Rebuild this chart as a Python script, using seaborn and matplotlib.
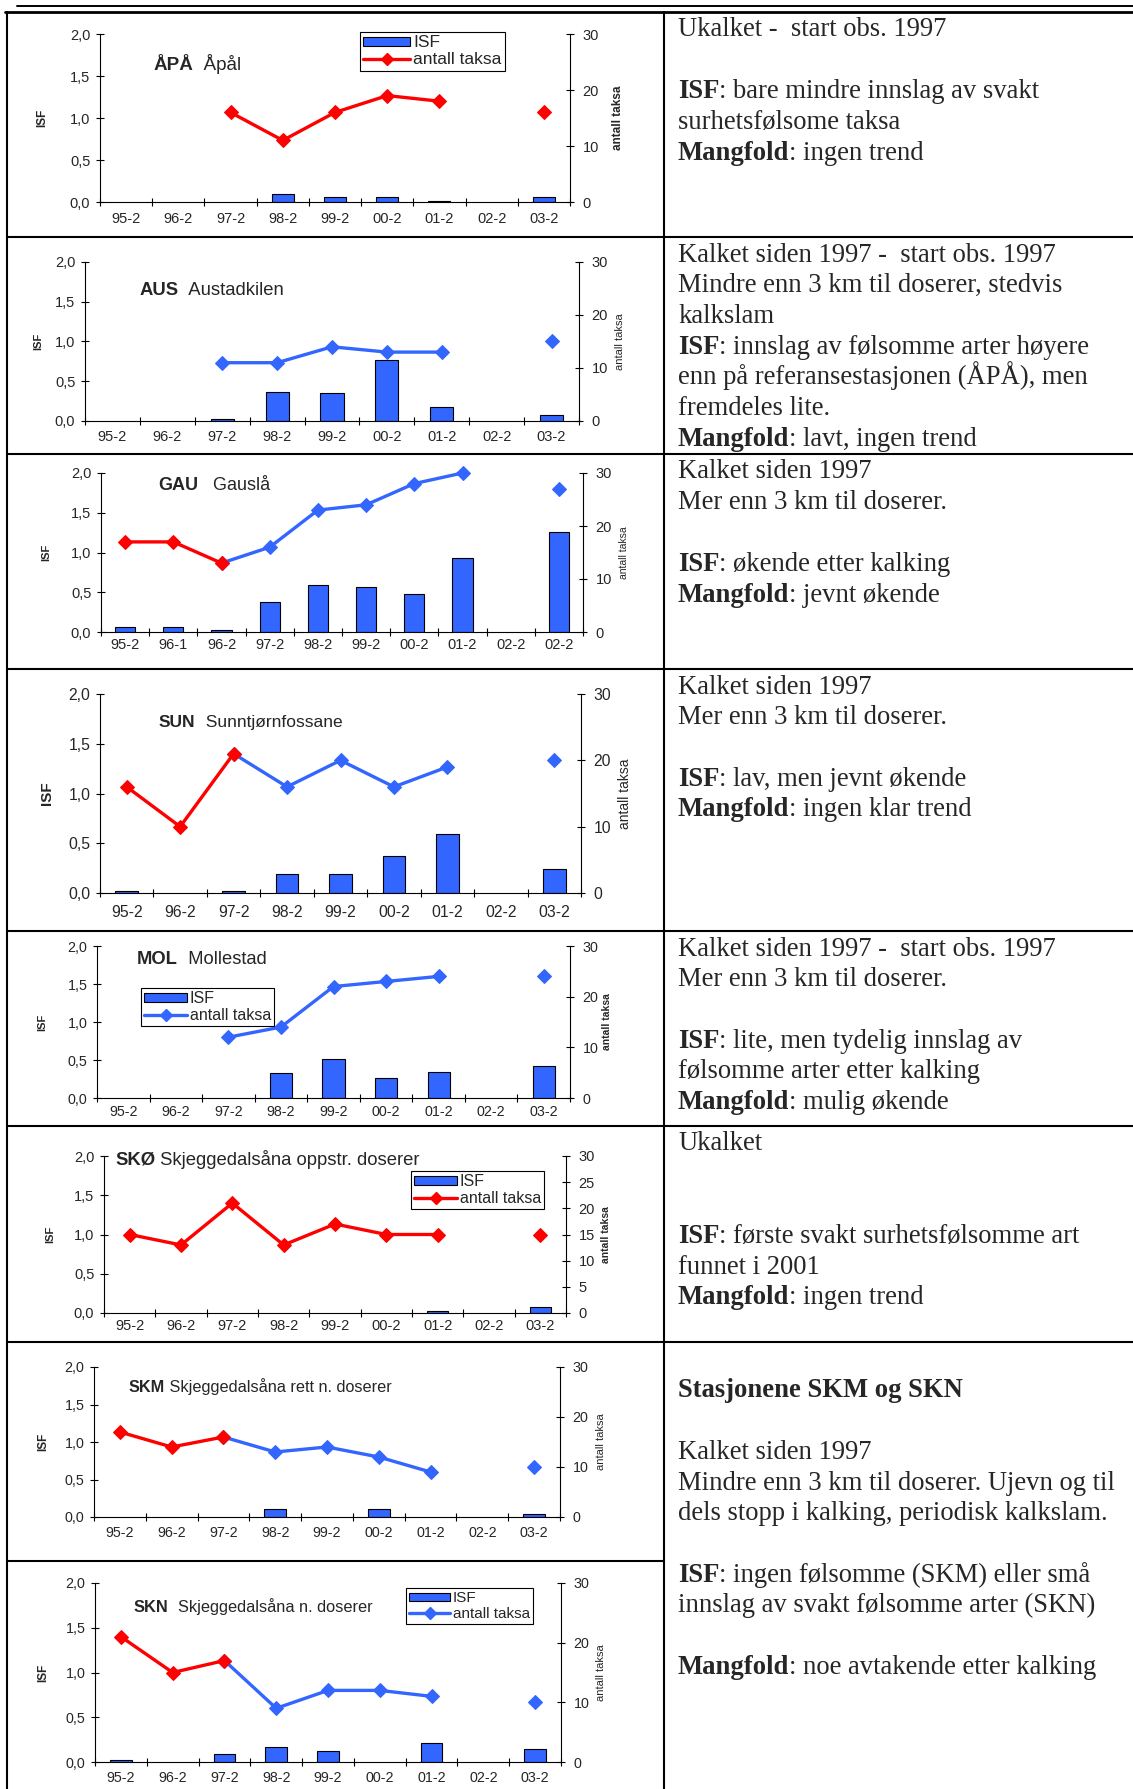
import numpy as np
import pandas as pd
import matplotlib
matplotlib.use("Agg")
import matplotlib.pyplot as plt
from matplotlib.lines import Line2D
from matplotlib.patches import Patch
import seaborn as sns

W, H = 1133, 1789
BLUE = "#3366FF"
RED = "#FF0000"
nan = np.nan
SANS = ["Liberation Sans", "DejaVu Sans"]
SERIF = ["Liberation Serif", "DejaVu Serif"]

# x categories
years = ["95-2", "96-2", "97-2", "98-2", "99-2", "00-2", "01-2", "02-2", "03-2"]
years_gau = ["95-2", "96-1", "96-2", "97-2", "98-2", "99-2", "00-2", "01-2", "02-2", "02-2"]

# ISF (left axis) and antall taksa (right axis) per station
apa_isf = [nan, nan, nan, 0.095, 0.063, 0.055, 0.012, nan, 0.063]
apa_taxa = [nan, nan, 16, 11, 16, 19, 18, nan, 16]
aus_isf = [nan, nan, 0.025, 0.364, 0.351, 0.77, 0.17, nan, 0.07]
aus_taxa = [nan, nan, 11, 11, 14, 13, 13, nan, 15]
gau_isf = [0.063, 0.063, 0.025, 0.372, 0.59, 0.56, 0.48, 0.937, nan, 1.26]
gau_taxa = [17, 17, 13, 16, 23, 24, 28, 30, nan, 27]
sun_isf = [0.017, nan, 0.017, 0.19, 0.19, 0.376, 0.597, nan, 0.238]
sun_taxa = [16, 10, 21, 16, 20, 16, 19, nan, 20]
mol_isf = [nan, nan, nan, 0.324, 0.512, 0.263, 0.337, nan, 0.424]
mol_taxa = [nan, nan, 12, 14, 22, 23, 24, nan, 24]
sko_isf = [nan, nan, nan, nan, nan, nan, 0.03, nan, 0.072]
sko_taxa = [15, 13, 21, 13, 17, 15, 15, nan, 15]
skm_isf = [nan, nan, nan, 0.103, nan, 0.103, nan, nan, 0.036]
skm_taxa = [17, 14, 16, 13, 14, 12, 9, nan, 10]
skn_isf = [0.026, nan, 0.089, 0.168, 0.123, nan, 0.216, nan, 0.149]
skn_taxa = [21, 15, 17, 9, 12, 12, 11, nan, 10]

# last un-limed sample (red); None = all red, -1 = all blue
apa_red, aus_red, gau_red, sun_red = None, -1, 2, 2
mol_red, sko_red, skm_red, skn_red = -1, None, 2, 2

titles = [
    [("ÅPÅ", True), ("  Åpål", False)],
    [("AUS", True), ("  Austadkilen", False)],
    [("GAU", True), ("   Gauslå", False)],
    [("SUN", True), ("  Sunntjørnfossane", False)],
    [("MOL", True), ("  Mollestad", False)],
    [("SKØ", True), (" Skjeggedalsåna oppstr. doserer", False)],
    [("SKM", True), (" Skjeggedalsåna rett n. doserer", False)],
    [("SKN", True), ("  Skjeggedalsåna n. doserer", False)],
]

left_ticks = [0, 0.5, 1.0, 1.5, 2.0]
left_labels = ["0,0", "0,5", "1,0", "1,5", "2,0"]
right_ticks = [0, 10, 20, 30]
right_ticks_sko = [0, 5, 10, 15, 20, 25, 30]

notes = [
    ["Ukalket -  start obs. 1997", "",
     [("ISF", True), (": bare mindre innslag av svakt", False)],
     "surhetsfølsome taksa",
     [("Mangfold", True), (": ingen trend", False)]],
    ["Kalket siden 1997 -  start obs. 1997",
     "Mindre enn 3 km til doserer, stedvis", "kalkslam",
     [("ISF", True), (": innslag av følsomme arter høyere", False)],
     "enn på referansestasjonen (ÅPÅ), men", "fremdeles lite.",
     [("Mangfold", True), (": lavt, ingen trend", False)]],
    ["Kalket siden 1997", "Mer enn 3 km til doserer.", "",
     [("ISF", True), (": økende etter kalking", False)],
     [("Mangfold", True), (": jevnt økende", False)]],
    ["Kalket siden 1997", "Mer enn 3 km til doserer.", "",
     [("ISF", True), (": lav, men jevnt økende", False)],
     [("Mangfold", True), (": ingen klar trend", False)]],
    ["Kalket siden 1997 -  start obs. 1997", "Mer enn 3 km til doserer.", "",
     [("ISF", True), (": lite, men tydelig innslag av", False)],
     "følsomme arter etter kalking",
     [("Mangfold", True), (": mulig økende", False)]],
    ["Ukalket", "", "",
     [("ISF", True), (": første svakt surhetsfølsomme art", False)],
     "funnet i 2001",
     [("Mangfold", True), (": ingen trend", False)]],
    ["", [("Stasjonene SKM og SKN", True)], "",
     "Kalket siden 1997", "Mindre enn 3 km til doserer. Ujevn og til",
     "dels stopp i kalking, periodisk kalkslam.", "",
     [("ISF", True), (": ingen følsomme (SKM) eller små", False)],
     "innslag av svakt følsomme arter (SKN)", "",
     [("Mangfold", True), (": noe avtakende etter kalking", False)]],
]
note_tops = [12, 237, 454, 669, 931, 1126, 1342]

# layout in pixels: axes box (left, top, right, bottom), title x/y/size, tick size,
# x-label offset, ISF label (x, size, bold), taksa label (x, size, bold), legend
stations = [
    dict(labels=years, isf=apa_isf, taxa=apa_taxa, red=apa_red, box=(100, 34, 570, 202),
         title=(153, 63, 13.6), fs=10.5, xoff=18, isf_lab=(42, 8.5, True), tax_lab=(618, 8.5, True),
         legend=(360, 32, RED, 12.5), rt=right_ticks),
    dict(labels=years, isf=aus_isf, taxa=aus_taxa, red=aus_red, box=(85, 262, 579, 421),
         title=(140, 288, 13.3), fs=10.5, xoff=17, isf_lab=(38, 8, True), tax_lab=(620, 8, False),
         legend=None, rt=right_ticks),
    dict(labels=years_gau, isf=gau_isf, taxa=gau_taxa, red=gau_red, box=(101, 473, 583, 632),
         title=(158, 484, 13), fs=10.5, xoff=14, isf_lab=(46, 8, True), tax_lab=(624, 7.5, False),
         legend=None, rt=right_ticks),
    dict(labels=years, isf=sun_isf, taxa=sun_taxa, red=sun_red, box=(100, 694, 581, 893),
         title=(159, 721, 12.5), fs=11.3, xoff=21, isf_lab=(47, 11, True), tax_lab=(625, 10, False),
         legend=None, rt=right_ticks),
    dict(labels=years, isf=mol_isf, taxa=mol_taxa, red=mol_red, box=(97, 946, 570, 1098),
         title=(137, 957, 13.2), fs=10.3, xoff=15, isf_lab=(42, 8, True), tax_lab=(607, 7.5, True),
         legend=(141, 988, BLUE, 11.5), rt=right_ticks),
    dict(labels=years, isf=sko_isf, taxa=sko_taxa, red=sko_red, box=(104, 1156, 566, 1313),
         title=(115, 1158, 13.3), fs=10.5, xoff=14, isf_lab=(50, 8, True), tax_lab=(606, 7.5, True),
         legend=(411, 1171, RED, 11.5), rt=right_ticks_sko),
    dict(labels=years, isf=skm_isf, taxa=skm_taxa, red=skm_red, box=(94, 1367, 560, 1517),
         title=(129, 1386, 11.7), fs=10.3, xoff=17, isf_lab=(43, 8.5, True), tax_lab=(601, 8, False),
         legend=None, rt=right_ticks),
    dict(labels=years, isf=skn_isf, taxa=skn_taxa, red=skn_red, box=(95, 1583, 561, 1762),
         title=(134, 1606, 11.8), fs=10.3, xoff=17, isf_lab=(43, 8.5, True), tax_lab=(601, 8, False),
         legend=(406, 1588, BLUE, 11), rt=right_ticks),
]

sns.set_style("white")
plt.rcParams["font.family"] = SANS
PX = 100 / 72.0


def rich_text(ax, x, y, parts, size, family):
    t = None
    for s, bold in parts:
        kw = dict(fontsize=size, family=family, ha="left",
                  fontweight="bold" if bold else "normal")
        if t is None:
            t = ax.text(x, y, s, va="baseline", **kw)
        else:
            t = ax.annotate(s, xy=(1, 0), xycoords=t, va="bottom", **kw)
    return t


def runs(ix):
    out, cur = [], []
    for i in ix:
        if cur and i != cur[-1] + 1:
            out.append(cur)
            cur = []
        cur.append(i)
    if cur:
        out.append(cur)
    return out


def draw_station(fig, st):
    l, t, r, b = st["box"]
    ax = fig.add_axes([l / W, 1 - b / H, (r - l) / W, (b - t) / H])
    labels = st["labels"]
    n = len(labels)

    df = pd.DataFrame({"pos": np.arange(n), "isf": st["isf"]}).dropna()
    sns.barplot(data=df, x="pos", y="isf", order=list(range(n)), color=BLUE,
                saturation=1, edgecolor="black", linewidth=0.8, width=0.42, ax=ax)
    ax.set_xlabel("")
    ax.set_ylabel("")
    ax.set_ylim(0, 2)
    ax.set_yticks(left_ticks)
    ax.set_yticklabels(left_labels)
    ax.set_xticks(np.arange(n + 1) - 0.5)
    ax.set_xticklabels([])
    ax.set_xticks(np.arange(n), minor=True)
    ax.set_xticklabels(labels, minor=True)
    fs = st["fs"]
    ax.tick_params(axis="x", which="major", direction="inout", length=6, width=0.8,
                   color="black", bottom=True, labelbottom=False)
    ax.tick_params(axis="x", which="minor", length=0, labelsize=fs,
                   pad=st["xoff"] / PX - 0.55 * fs)
    ax.tick_params(axis="y", direction="inout", length=6, width=0.8, color="black",
                   left=True, labelsize=fs, pad=4)
    for side in ["top", "right"]:
        ax.spines[side].set_visible(False)
    for side in ["left", "bottom"]:
        ax.spines[side].set_color("black")
        ax.spines[side].set_linewidth(0.8)
    ax.patch.set_visible(False)

    ax2 = ax.twinx()
    taxa = np.asarray(st["taxa"], float)
    valid = [i for i in range(n) if not np.isnan(taxa[i])]
    red = st["red"]
    if red is None:
        red_ix, blue_ix = valid, []
    else:
        red_ix = [i for i in valid if i <= red]
        blue_ix = [i for i in valid if i >= max(red, 0)]
    for ix, c in [(blue_ix, BLUE), (red_ix, RED)]:
        for seg in runs(ix):
            sns.lineplot(x=seg, y=taxa[seg], ax=ax2, color=c, linewidth=2.4,
                         marker="D", markersize=7.5, markeredgecolor=c,
                         estimator=None, sort=False, clip_on=False)
    ax2.set_ylim(0, 30)
    ax2.set_yticks(st["rt"])
    ax2.set_yticklabels([str(v) for v in st["rt"]])
    ax2.set_ylabel("")
    ax2.tick_params(axis="y", direction="inout", length=6, width=0.8, color="black",
                    right=True, labelsize=fs, pad=6)
    for side in ["top", "left", "bottom"]:
        ax2.spines[side].set_visible(False)
    ax2.spines["right"].set_color("black")
    ax2.spines["right"].set_linewidth(0.8)
    ax.set_xlim(-0.5, n - 0.5)
    ax2.set_xlim(-0.5, n - 0.5)

    if st["legend"] is not None:
        lx, ly, lc, lfs = st["legend"]
        handles = [Patch(facecolor=BLUE, edgecolor="black", linewidth=0.8),
                   Line2D([], [], color=lc, linewidth=2.4, marker="D", markersize=6.5)]
        leg = ax2.legend(handles, ["ISF", "antall taksa"], loc="upper left",
                         bbox_to_anchor=(lx / W, 1 - ly / H), bbox_transform=fig.transFigure,
                         fontsize=lfs, frameon=True, fancybox=False, framealpha=1,
                         edgecolor="black", borderaxespad=0, borderpad=0.2,
                         labelspacing=0.1, handlelength=2.7, handleheight=0.45,
                         handletextpad=0.15)
        leg.get_frame().set_linewidth(0.8)

    return ax, ax2


fig = plt.figure(figsize=(W / 100, H / 100), dpi=100)
bg = fig.add_axes([0, 0, 1, 1])
bg.set_xlim(0, W)
bg.set_ylim(H, 0)
bg.axis("off")

# table rules
bg.plot([17, W], [5.5, 5.5], color="black", lw=1.4)
bg.plot([5, W], [12, 12], color="black", lw=2)
bg.plot([6.5, 6.5], [12, H], color="black", lw=1.5)
bg.plot([664, 664], [12, H], color="black", lw=1.5)
for y in [237, 454, 669, 931, 1126, 1342]:
    bg.plot([6.5, W], [y, y], color="black", lw=1.5)
bg.plot([6.5, 664], [1561, 1561], color="black", lw=1.5)

# comment column
for top, lines in zip(note_tops, notes):
    for k, line in enumerate(lines):
        if line == "":
            continue
        parts = [(line, False)] if isinstance(line, str) else line
        rich_text(bg, 678, top + 24.5 + k * 30.75, parts, 19.2, SERIF)

for st, title in zip(stations, titles):
    draw_station(fig, st)
    l, t, r, b = st["box"]
    tx, ty, tfs = st["title"]
    rich_text(bg, tx, ty + 0.36 * tfs * PX, title, tfs, SANS)
    ix, isz, ibold = st["isf_lab"]
    bg.text(ix, (t + b) / 2, "ISF", rotation=90, ha="center", va="center",
            fontsize=isz, fontweight="bold" if ibold else "normal")
    rx, rsz, rbold = st["tax_lab"]
    bg.text(rx, (t + b) / 2, "antall taksa", rotation=90, ha="center", va="center",
            fontsize=rsz, fontweight="bold" if rbold else "normal")

fig.savefig("out.png", dpi=100)
